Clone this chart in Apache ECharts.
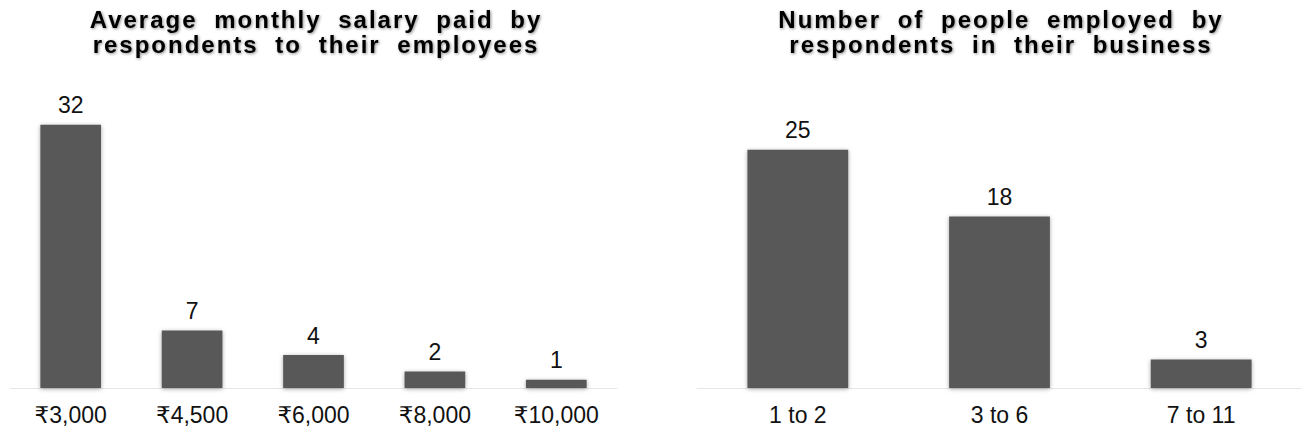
<!DOCTYPE html>
<html>
<head>
<meta charset="utf-8">
<script src="https://cdn.jsdelivr.net/npm/echarts@6/dist/echarts.min.js"></script>
<style>
  html, body { margin: 0; padding: 0; background: #ffffff; }
  #chart { width: 1302px; height: 434px; }
</style>
</head>
<body>
<div id="chart"></div>
<script>
// Survey results: salary paid and head count of respondents' businesses
const salaryTitle = ['Average monthly salary paid by', 'respondents to their employees'];
const salaryCategories = ['₹3,000', '₹4,500', '₹6,000', '₹8,000', '₹10,000'];
const salaryCounts = [32, 7, 4, 2, 1];

const staffTitle = ['Number of people employed by', 'respondents in their business'];
const staffCategories = ['1 to 2', '3 to 6', '7 to 11'];
const staffCounts = [25, 18, 3];

const FONT = '"Liberation Sans", Arial, "DejaVu Sans", "Noto Sans", sans-serif';
const BAR = '#595959';

function titleOf(lines, center) {
  return {
    text: lines.join('\n'),
    left: center,
    top: 7,
    padding: 0,
    textAlign: 'center',
    textStyle: {
      fontFamily: FONT,
      fontWeight: 'bold',
      fontSize: 24,
      lineHeight: 25,
      color: '#000000',
      textShadowColor: 'rgba(0,0,0,0.45)',
      textShadowBlur: 3,
      textShadowOffsetX: 1,
      textShadowOffsetY: 1
    }
  };
}

function xAxisOf(cats, idx) {
  return {
    type: 'category',
    gridIndex: idx,
    data: cats,
    axisLine: { lineStyle: { color: '#e6e6e6', width: 1 } },
    axisTick: { show: false },
    axisLabel: { margin: 15, fontSize: 23, fontFamily: FONT, color: '#111111' }
  };
}

function yAxisOf(idx, max) {
  return {
    type: 'value',
    gridIndex: idx,
    min: 0,
    max: max,
    show: false,
    splitLine: { show: false }
  };
}

function seriesOf(values, idx) {
  return {
    type: 'bar',
    xAxisIndex: idx,
    yAxisIndex: idx,
    data: values,
    barWidth: '50%',
    itemStyle: {
      color: BAR,
      shadowColor: 'rgba(0,0,0,0.35)',
      shadowBlur: 4,
      shadowOffsetY: 1
    },
    label: {
      show: true,
      position: 'top',
      distance: 8,
      fontSize: 23,
      fontFamily: FONT,
      color: '#111111'
    }
  };
}

const chart = echarts.init(document.getElementById('chart'), null, { renderer: 'svg' });
chart.setOption({
  animation: false,
  backgroundColor: '#ffffff',
  title: [titleOf(salaryTitle, 316), titleOf(staffTitle, 1001)],
  grid: [
    { left: 10, width: 607, top: 100, bottom: 46 },
    { left: 697, width: 605, top: 102, bottom: 46 }
  ],
  xAxis: [xAxisOf(salaryCategories, 0), xAxisOf(staffCategories, 1)],
  yAxis: [yAxisOf(0, 35), yAxisOf(1, 30)],
  series: [seriesOf(salaryCounts, 0), seriesOf(staffCounts, 1)]
});

// Titles are set with wide tracking
const titleLines = new Set(salaryTitle.concat(staffTitle));
function trackTitles() {
  document.querySelectorAll('#chart svg text').forEach(function (t) {
    if (titleLines.has(t.textContent)) {
      t.setAttribute('letter-spacing', '2px');
      t.setAttribute('word-spacing', '8px');
    }
  });
}
chart.on('finished', trackTitles);
trackTitles();
</script>
</body>
</html>
